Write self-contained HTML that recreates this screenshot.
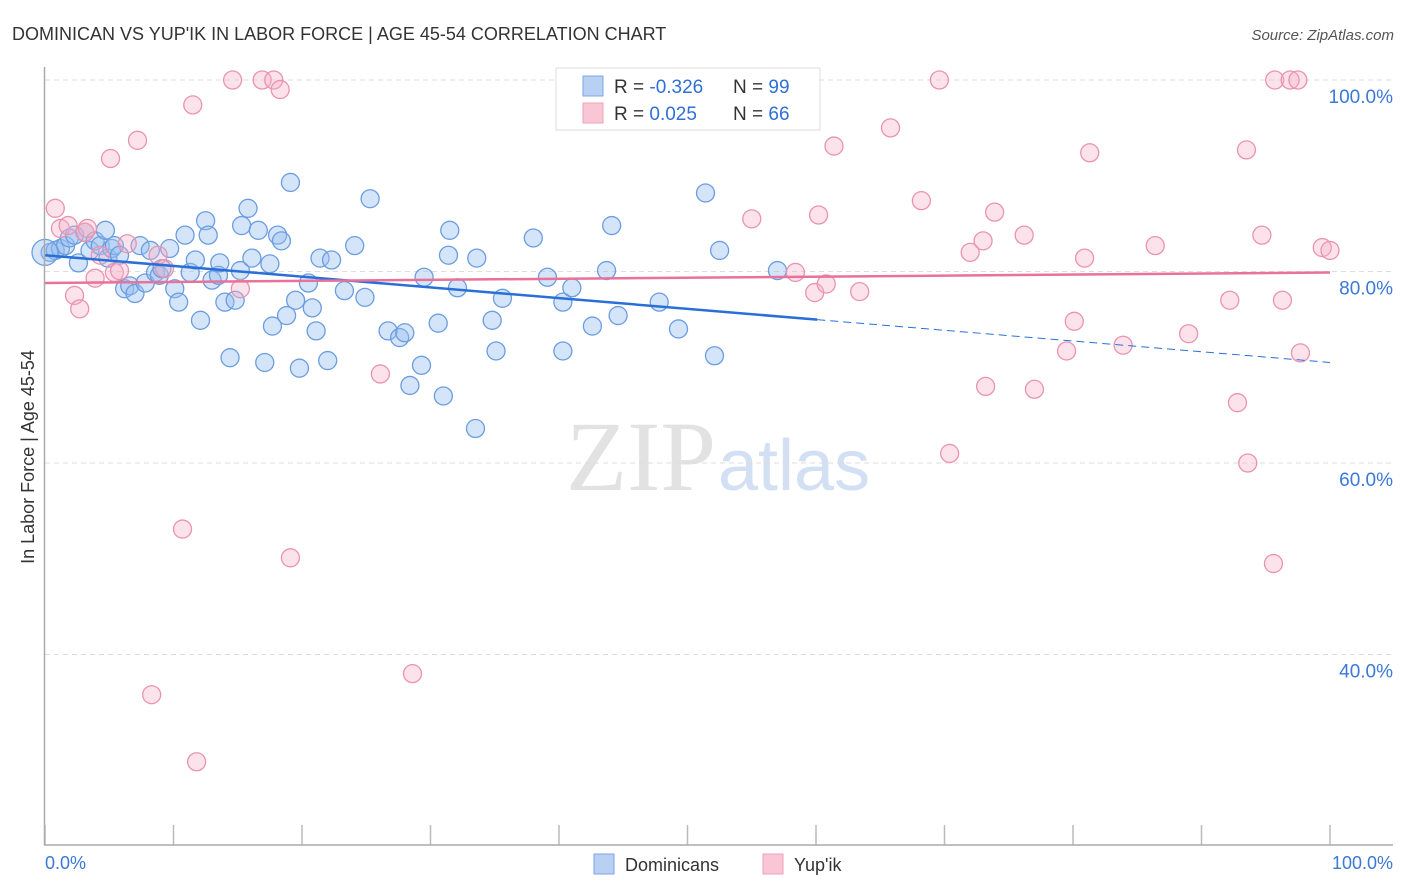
<!DOCTYPE html>
<html><head><meta charset="utf-8"><style>
body{margin:0;background:#fff;font-family:"Liberation Sans",sans-serif;}
svg{display:block}
</style></head><body>
<svg id="chart" width="1406" height="892">
<text x="12" y="40" font-size="18" fill="#333">DOMINICAN VS YUP'IK IN LABOR FORCE | AGE 45-54 CORRELATION CHART</text>
<text x="1394" y="40" font-size="15" fill="#555" font-style="italic" text-anchor="end">Source: ZipAtlas.com</text>
<text x="716" y="490" font-size="100" fill="#e2e2e2" text-anchor="end" font-family="Liberation Serif,serif">ZIP</text>
<text x="718" y="490" font-size="72" fill="#d3e0f3">atlas</text>
<g id="grid"></g>
<g id="pts"></g>
<g id="trend"></g>
<line x1="44.5" y1="67" x2="44.5" y2="845" stroke="#aaa" stroke-width="1.5"/>
<line x1="44" y1="845" x2="1393" y2="845" stroke="#aaa" stroke-width="1.5"/>
<text transform="translate(34,457) rotate(-90)" font-size="18" fill="#333" text-anchor="middle">In Labor Force | Age 45-54</text>
<text x="45" y="869" font-size="18" fill="#3b78d8">0.0%</text>
<text x="1393" y="869" font-size="18" fill="#3b78d8" text-anchor="end">100.0%</text>
<g>
<rect x="556" y="68" width="264" height="62" fill="#fff" stroke="#ddd"/>
<rect x="583" y="76" width="20" height="20" fill="#b8d1f3" stroke="#7aa6e6"/>
<rect x="583" y="103" width="20" height="20" fill="#f9c6d6" stroke="#eea0b8"/>
<text x="614" y="93" font-size="19" fill="#333">R = <tspan fill="#2f6fd6">-0.326</tspan></text>
<text x="733" y="93" font-size="19" fill="#333">N = <tspan fill="#2f6fd6">99</tspan></text>
<text x="614" y="120" font-size="19" fill="#333">R = <tspan fill="#2f6fd6"> 0.025</tspan></text>
<text x="733" y="120" font-size="19" fill="#333">N = <tspan fill="#2f6fd6">66</tspan></text>
</g>
<g>
<rect x="594" y="854" width="20" height="20" fill="#b8d1f3" stroke="#7aa6e6"/>
<text x="625" y="871" font-size="18" fill="#333">Dominicans</text>
<rect x="763" y="854" width="20" height="20" fill="#f9c6d6" stroke="#eea0b8"/>
<text x="794" y="871" font-size="18" fill="#333">Yup'ik</text>
</g>
</svg>
<script>
const yTicks=[40,60,80,100];
const xTicks=[0,10,20,30,40,50,60,70,80,90,100];
const blueX=[0.4,0.8,1.2,1.6,1.9,2.3,2.6,3.1,3.5,3.9,4.3,4.7,4.9,5.2,5.4,5.8,6.2,6.6,7.0,7.4,7.8,8.2,8.6,8.9,9.1,9.7,10.1,10.4,10.9,11.3,11.7,12.1,12.5,12.7,13.0,13.5,13.6,14.0,14.4,14.8,15.2,15.3,15.8,16.1,16.6,17.1,17.5,17.7,18.1,18.4,18.8,19.1,19.5,19.8,20.5,20.8,21.1,21.4,22.0,22.3,23.3,24.1,24.9,25.3,26.7,27.6,28.0,28.4,29.3,29.5,30.6,31.0,31.4,31.5,32.1,33.5,33.6,34.8,35.1,35.6,38.0,39.1,40.3,40.3,41.0,42.6,43.7,44.1,44.6,47.8,49.3,51.4,52.1,52.5,57.0];
const blueY=[82.0,82.2,82.4,82.7,83.5,83.8,80.9,84.1,82.2,83.2,82.7,84.3,81.4,82.4,82.7,81.7,78.2,78.5,77.7,82.7,78.8,82.2,79.9,79.6,80.3,82.4,78.2,76.8,83.8,79.9,81.2,74.9,85.3,83.8,79.1,79.6,80.9,76.8,71.0,77.0,80.1,84.8,86.6,81.4,84.3,70.5,80.8,74.3,83.8,83.2,75.4,89.3,77.0,69.9,78.8,76.2,73.8,81.4,70.7,81.2,78.0,82.7,77.3,87.6,73.8,73.1,73.6,68.1,70.2,79.4,74.6,67.0,81.7,84.3,78.3,63.6,81.4,74.9,71.7,77.2,83.5,79.4,71.7,76.8,78.3,74.3,80.1,84.8,75.4,76.8,74.0,88.2,71.2,82.2,80.1];
const pinkX=[0.8,1.2,1.8,2.3,2.7,3.1,3.3,3.9,4.3,5.1,5.4,5.8,6.4,7.2,8.3,8.8,9.3,10.7,11.5,11.8,14.6,15.2,16.9,17.8,18.3,19.1,26.1,28.6,55.0,58.4,59.9,60.2,60.8,61.4,63.4,65.8,68.2,69.6,70.4,72.0,73.0,73.2,73.9,76.2,77.0,79.5,80.1,80.9,81.3,83.9,86.4,89.0,92.2,92.8,93.5,93.6,94.7,95.6,95.7,96.3,96.9,97.5,97.7,99.4,100];
const pinkY=[86.6,84.5,84.8,77.5,76.1,84.1,84.5,79.3,81.7,91.8,79.9,80.1,82.9,93.7,35.8,81.7,80.3,53.1,97.4,28.8,100,78.2,100,100,99,50.1,69.3,38.0,85.5,79.9,77.8,85.9,78.7,93.1,77.9,95.0,87.4,100,61.0,82.0,83.2,68.0,86.2,83.8,67.7,71.7,74.8,81.4,92.4,72.3,82.7,73.5,77.0,66.3,92.7,60.0,83.8,49.5,100,77.0,100,100,71.5,82.5,82.2];
const blueTrend=[81.7,70.5];
const pinkTrend=[78.8,79.9];
const blueSolidEnd=60.1;
const NS='http://www.w3.org/2000/svg';
const sx=v=>45+v*12.85, sy=v=>80+(100-v)*9.575;
function mk(tag,attrs,parent){const e=document.createElementNS(NS,tag);for(const k in attrs)e.setAttribute(k,attrs[k]);parent.appendChild(e);return e;}
const grid=document.getElementById('grid');
yTicks.forEach(t=>{
  const l=mk('line',{x1:45,x2:1393,y1:sy(t),y2:sy(t),stroke:'#ddd','stroke-dasharray':'5,4'},grid);
  
  
  const tx=mk('text',{x:1393,y:sy(t)+23,'font-size':19,fill:'#3b78d8','text-anchor':'end'},grid);
  tx.textContent=t.toFixed(1)+'%';
  
  
});
xTicks.forEach(t=>{
  const l=mk('line',{x1:sx(t),x2:sx(t),y1:825,y2:845,stroke:'#bbb','stroke-width':1.5},grid);
  
  
});
const pts=document.getElementById('pts');
blueX.forEach((x,i)=>{
  const c=mk('circle',{cx:sx(x),cy:sy(blueY[i]),r:9,fill:'rgba(150,190,240,0.4)',stroke:'#6b9de0','stroke-width':1.3},pts);
  
  
});
const big=mk('circle',{cx:sx(0),cy:sy(82),r:13,fill:'rgba(150,190,240,0.4)',stroke:'#6b9de0','stroke-width':1.3},pts);


pinkX.forEach((x,i)=>{
  const c=mk('circle',{cx:sx(x),cy:sy(pinkY[i]),r:9,fill:'rgba(245,175,198,0.35)',stroke:'#ea93b0','stroke-width':1.3},pts);
  
  
});
const tr=document.getElementById('trend');
const by=x=>blueTrend[0]+(blueTrend[1]-blueTrend[0])*x/100;
let l1=mk('line',{x1:sx(0),y1:sy(by(0)),x2:sx(blueSolidEnd),y2:sy(by(blueSolidEnd)),stroke:'#2a6fd8','stroke-width':2.5},tr);


let l2=mk('line',{x1:sx(blueSolidEnd),y1:sy(by(blueSolidEnd)),x2:sx(100),y2:sy(by(100)),stroke:'#2a6fd8','stroke-width':1,'stroke-dasharray':'8,5'},tr);


let l3=mk('line',{x1:sx(0),y1:sy(pinkTrend[0]),x2:sx(100),y2:sy(pinkTrend[1]),stroke:'#e8729a','stroke-width':2.5},tr);


</script>
</body></html>
